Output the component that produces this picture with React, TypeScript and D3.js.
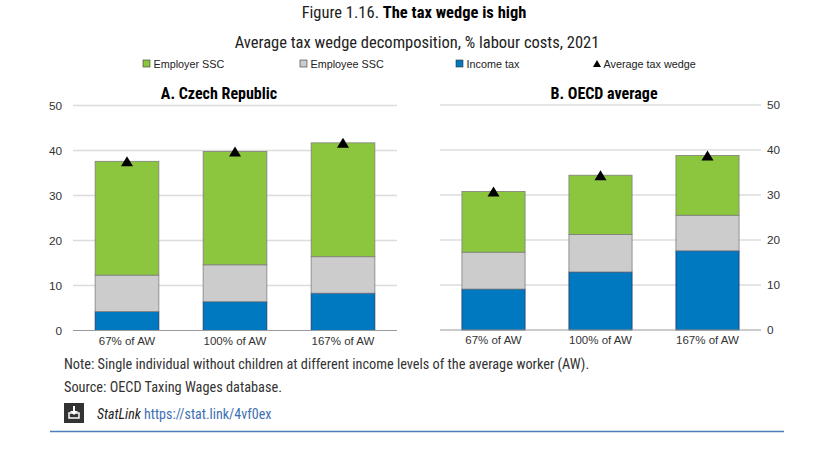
import React from "react";
import * as d3 from "d3";

const categories = ["67% of AW", "100% of AW", "167% of AW"];
const czIncomeTax = [4.2, 6.4, 8.3];
const czEmployeeSSC = [8.1, 8.2, 8.1];
const czEmployerSSC = [25.3, 25.2, 25.3];
const czAverage = [37.6, 39.8, 41.7];
const oeIncomeTax = [9.1, 12.9, 17.6];
const oeEmployeeSSC = [8.2, 8.3, 7.9];
const oeEmployerSSC = [13.5, 13.2, 13.3];
const oeAverage = [30.8, 34.4, 38.8];
const yTicks = [0, 10, 20, 30, 40, 50];
const legendItems = ["Employer SSC", "Employee SSC", "Income tax", "Average tax wedge"];

const NARROW = "'Liberation Sans Narrow', 'Arial Narrow', 'Roboto Condensed', sans-serif";
const SANS = "'Liberation Sans', Arial, sans-serif";
const GREEN = "#8cc63f";
const GRAY = "#cccccc";
const BLUE = "#0079c0";

function triPath(cx: number, cy: number, w: number, h: number) {
  const p = d3.path();
  p.moveTo(cx, cy - h / 2);
  p.lineTo(cx + w / 2, cy + h / 2);
  p.lineTo(cx - w / 2, cy + h / 2);
  p.closePath();
  return p.toString();
}

type PanelProps = {
  x0: number; x1: number; y0: number; y1: number;
  title: string; titleX: number;
  income: number[]; employee: number[]; employer: number[]; avg: number[];
  axisSide: "left" | "right";
};

function Panel(p: PanelProps) {
  const x = d3.scaleBand<string>().domain(categories).range([p.x0, p.x1]).paddingInner(0.41).paddingOuter(0.205);
  const y = d3.scaleLinear().domain([0, 50]).range([p.y0, p.y1]);
  return (
    <g>
      <text x={p.titleX} y={99} textAnchor="middle" fontFamily={NARROW} fontWeight="bold" fontSize={16} fill="#000">{p.title}</text>
      {yTicks.map((t) => (
        <g key={t}>
          {t > 0 && <line x1={p.x0} x2={p.x1} y1={y(t)} y2={y(t)} stroke="#dcdcdc" strokeWidth={1.3} />}
          <text
            x={p.axisSide === "left" ? p.x0 - 11 : p.x1 + 6}
            y={y(t)}
            dy="0.35em"
            textAnchor={p.axisSide === "left" ? "end" : "start"}
            fontFamily={SANS}
            fontSize={11.8}
            fill="#333"
          >{t}</text>
        </g>
      ))}
      {categories.map((c, i) => {
        const bx = x(c)!;
        const bw = x.bandwidth();
        const segs = [
          { lo: 0, hi: p.income[i], fill: BLUE, stroke: "#1f3a6b" },
          { lo: p.income[i], hi: p.income[i] + p.employee[i], fill: GRAY, stroke: "#7f7f7f" },
          { lo: p.income[i] + p.employee[i], hi: p.income[i] + p.employee[i] + p.employer[i], fill: GREEN, stroke: "#7f7f7f" },
        ];
        return (
          <g key={c}>
            {segs.map((s, j) => (
              <rect key={j} x={bx} width={bw} y={y(s.hi)} height={y(s.lo) - y(s.hi)} fill={s.fill} stroke={s.stroke} strokeWidth={0.8} />
            ))}
            <path d={triPath(bx + bw / 2, y(p.avg[i]), 12, 10)} fill="#000" />
            <text x={bx + bw / 2} y={p.y0 + 14} textAnchor="middle" fontFamily={SANS} fontSize={11.5} fill="#333">{c}</text>
          </g>
        );
      })}
      <line x1={p.x0} x2={p.x1} y1={y(0)} y2={y(0)} stroke="#999" strokeWidth={1.2} />
    </g>
  );
}

export default function App() {
  const legendX = [143, 300, 456, 593];
  return (
    <svg width={827} height={456} style={{ position: "absolute", left: 0, top: 0, fontFamily: NARROW }}>
      <rect width={827} height={456} fill="#fff" />
      <text x={414} y={18} textAnchor="middle" fontSize={16.5} fill="#222">
        <tspan>Figure 1.16. </tspan>
        <tspan fontWeight="bold" fill="#000">The tax wedge is high</tspan>
      </text>
      <text x={417} y={47.5} textAnchor="middle" fontSize={16.5} fill="#222">Average tax wedge decomposition, % labour costs, 2021</text>
      {legendItems.map((l, i) => (
        <g key={l}>
          {i < 3 ? (
            <rect x={legendX[i]} y={60} width={7} height={7} fill={[GREEN, GRAY, BLUE][i]} stroke="#333" strokeWidth={0.6} />
          ) : (
            <path d={triPath(legendX[i] + 4, 63.5, 8, 7)} fill="#000" />
          )}
          <text x={legendX[i] + 10.5} y={68} fontFamily={SANS} fontSize={10.8} fill="#222">{l}</text>
        </g>
      ))}
      <Panel x0={73} x1={397} y0={330.5} y1={105.5} title="A. Czech Republic" titleX={219}
        income={czIncomeTax} employee={czEmployeeSSC} employer={czEmployerSSC} avg={czAverage} axisSide="left" />
      <Panel x0={440} x1={761} y0={330} y1={105} title="B. OECD average" titleX={604}
        income={oeIncomeTax} employee={oeEmployeeSSC} employer={oeEmployerSSC} avg={oeAverage} axisSide="right" />
      <text x={64} y={369} fontSize={14.3} fill="#333">Note: Single individual without children at different income levels of the average worker (AW).</text>
      <text x={64} y={392} fontSize={14.3} fill="#333">Source: OECD Taxing Wages database.</text>
      <g>
        <rect x={64} y={403} width={20} height={20} fill="#333" />
        <rect x={69} y={413} width={10} height={5} fill="none" stroke="#fff" strokeWidth={1.5} />
        <line x1={74} y1={406} x2={74} y2={414} stroke="#fff" strokeWidth={2} />
        <path d="M70,411 L74,415 L78,411 Z" fill="#fff" />
      </g>
      <text x={97} y={419} fontSize={14}>
        <tspan fontStyle="italic" fill="#222">StatLink</tspan>
        <tspan fill="#3d6fb4"> https://stat.link/4vf0ex</tspan>
      </text>
      <line x1={50} x2={784} y1={431.5} y2={431.5} stroke="#4a7ebb" strokeWidth={1.3} />
    </svg>
  );
}
